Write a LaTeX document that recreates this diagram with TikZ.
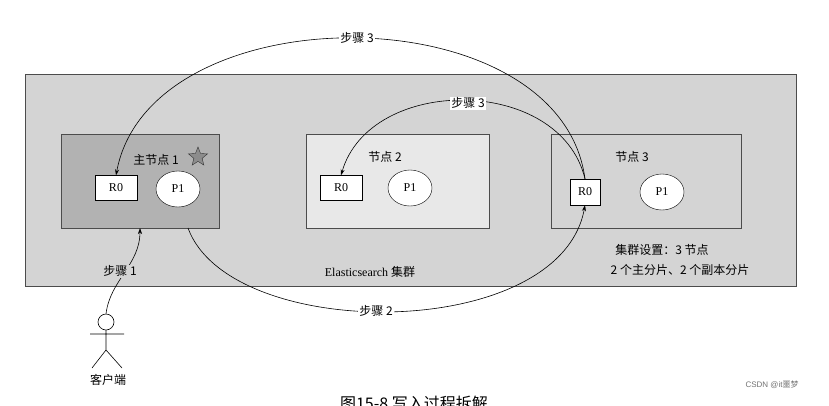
\documentclass[tikz,border=0pt]{standalone}
\usepackage{fontspec}
\setmainfont{Liberation Serif}
\newfontfamily\cjk{Noto Sans CJK SC}
\newfontfamily\sans{Liberation Sans}
\usetikzlibrary{shapes.geometric,arrows.meta}
\begin{document}
\begin{tikzpicture}[x=1pt,y=-1pt,
  fs/.style={font=\fontsize{12}{12}\selectfont},
  box/.style={draw=black!70,line width=0.8pt},
  shard/.style={draw=black,fill=white,font=\fontsize{12}{12}\selectfont},
  lbl/.style={font=\cjk\fontsize{12}{12}\selectfont,fill=white,inner sep=1pt},
  ctext/.style={font=\cjk\fontsize{12}{12}\selectfont},
  arr/.style={-{Stealth[length=6pt,width=4pt]},line width=0.6pt}]
\useasboundingbox (0,0) rectangle (829,405);
\clip (0,0) rectangle (829,405);
\fill[white] (0,0) rectangle (829,405);
\draw[box,fill=black!17] (25,74) rectangle (796,286);
\draw[box,fill=black!30] (61,134) rectangle (219,228);
\draw[box,fill=black!9] (306,134) rectangle (489,228);
\draw[box,fill=black!17] (551,134) rectangle (741,228);
\coordinate (n1b) at (140,228); \coordinate (n1c) at (188,228);
\node[shard,minimum width=42pt,minimum height=25pt] (r1) at (116,188) {R0};
\node[shard,ellipse,minimum width=44pt,minimum height=36pt,inner sep=1pt] (p1) at (178,189) {P1};
\node[shard,minimum width=42pt,minimum height=25pt] (r2) at (341,188) {R0};
\node[shard,ellipse,minimum width=44pt,minimum height=36pt,inner sep=1pt] (p2) at (410,188) {P1};
\node[shard,minimum width=30pt,minimum height=26pt,inner sep=2pt] (r3) at (585,192) {R0};
\node[shard,ellipse,minimum width=44pt,minimum height=36pt,inner sep=1pt] (p3) at (662,192) {P1};
\node[ctext] (t1) at (156,160) {主节点 1};
\node[star,star points=5,star point ratio=2.3,draw=black!80,fill=black!45,minimum size=20pt,inner sep=0pt] (st) at (198,157) {};
\node[ctext] (t2) at (385,157) {节点 2};
\node[ctext] (t3) at (632,157) {节点 3};
\node[ctext] (cs) at (662,250) {集群设置：3 节点};
\node[ctext] (cs2) at (680,270) {2 个主分片、2 个副本分片};
\node[fs] (es) at (370,272) {Elasticsearch {\cjk 集群}};
% stick figure
\draw[line width=0.6pt] (106,322) circle (8);
\coordinate (head) at (106,314);
\draw[line width=0.6pt] (106,330) -- (106,350) (90,334) -- (124,334) (106,350) -- (92,368) (106,350) -- (122,368);
\node[ctext] (cl) at (108,380) {客户端};
% arrows
\draw[arr] (r3.north) .. controls (560,-8) and (150,-8) .. (r1.north);
\node[lbl] (s3a) at (357,38) {步骤 3};
\draw[arr] (r3.north) .. controls (560,75) and (370,75) .. (r2.north);
\node[lbl] (s3b) at (468,103) {步骤 3};
\draw[arr] (n1c) .. controls (230,343) and (560,343) .. (r3.south);
\node[lbl] (s2) at (376,311) {步骤 2};
\draw[arr] (head) .. controls (110,280) and (140,265) .. (n1b);
\node[lbl,fill=black!17] (s1) at (120,271) {步骤 1};
\node[font=\cjk\fontsize{16}{16}\selectfont,anchor=north] (cap) at (414,393) {图15-8 写入过程拆解};
\node[font=\sans\footnotesize,text=black!55] (wm) at (772,385) {CSDN @it{\cjk 噩梦}};
\end{tikzpicture}
\end{document}
